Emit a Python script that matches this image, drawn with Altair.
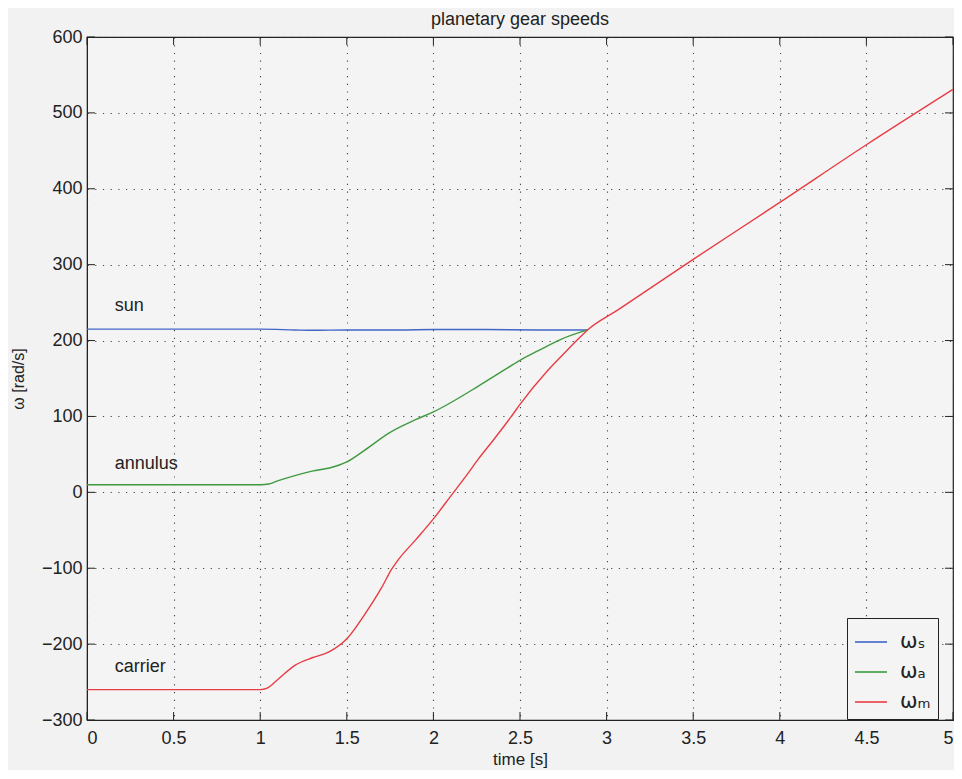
import altair as alt
import pandas as pd

# ---- data ----
sun_t = [0, 0.5, 1.0, 1.2, 1.3, 1.5, 1.8, 2.0, 2.3, 2.6, 2.89]
sun_w = [215, 215, 215, 214, 213.5, 214, 214, 214.5, 214.5, 214, 214]

ann_t = [0, 0.5, 1.0, 1.05, 1.1, 1.2, 1.3, 1.4, 1.5, 1.6, 1.75, 1.9, 2.0, 2.26, 2.4, 2.5, 2.6, 2.74, 2.89]
ann_w = [10, 10, 10, 11, 15, 22, 28, 32, 40, 55, 79, 96, 106, 140, 160, 174, 186, 202, 214]

car_t = [0, 0.5, 1.0, 1.04, 1.1, 1.2, 1.3, 1.4, 1.5, 1.6, 1.7, 1.76, 1.8, 1.9, 2.0, 2.1, 2.19, 2.26,
         2.35, 2.45, 2.5, 2.65, 2.75, 2.84, 2.89, 3.07, 3.5, 4.0, 4.5, 5.0]
car_w = [-260, -260, -260, -258, -247, -228, -218, -210, -193, -162, -126, -101, -88, -62, -35,
         -5, 22, 44, 70, 100, 116, 158, 182, 203, 214, 241, 307, 382, 458, 531]

series_names = ["ωₛ", "ωₐ", "ωₘ"]
series_colors = ["#4266c8", "#3f9a3f", "#e83c44"]

label_text = ["sun", "annulus", "carrier"]
label_t = [0.16, 0.16, 0.16]
label_w = [245, 37, -230]

x_ticks = [0, 0.5, 1, 1.5, 2, 2.5, 3, 3.5, 4, 4.5, 5]
y_ticks = [-300, -200, -100, 0, 100, 200, 300, 400, 500, 600]

# ---- build tables ----
rows = []
for name, ts, ws, o in [(series_names[0], sun_t, sun_w, 0),
                        (series_names[1], ann_t, ann_w, 1),
                        (series_names[2], car_t, car_w, 2)]:
    for t, w in zip(ts, ws):
        rows.append({"t": t, "w": w, "s": name, "o": o})
df = pd.DataFrame(rows)
lab_df = pd.DataFrame({"t": label_t, "w": label_w, "txt": label_text})
xt_df = pd.DataFrame({"v": x_ticks})
yt_df = pd.DataFrame({"v": y_ticks})

W, H = 866, 683
FONT = "Liberation Sans"
INK = "#222"

xscale = alt.Scale(domain=[0, 5], nice=False, zero=False)
yscale = alt.Scale(domain=[-300, 600], nice=False, zero=False)

grid = dict(grid=True, gridDash=[1.2, 6.5], gridColor="#333", gridOpacity=0.9, gridWidth=1.1)

lines = alt.Chart(df).mark_line(strokeWidth=1.4, interpolate="monotone").encode(
    x=alt.X("t:Q", scale=xscale, title="time [s]",
            axis=alt.Axis(values=x_ticks, format="~g", ticks=False, **grid,
                          labelPadding=9, titlePadding=4,
                          labelFontSize=18, titleFontSize=17, labelFont=FONT, titleFont=FONT,
                          titleFontWeight="normal",
                          labelColor=INK, titleColor=INK, domainColor=INK)),
    y=alt.Y("w:Q", scale=yscale, title="ω [rad/s]",
            axis=alt.Axis(values=y_ticks, ticks=False, **grid,
                          labelPadding=5, titlePadding=15,
                          labelFontSize=18, titleFontSize=16, labelFont=FONT, titleFont=FONT,
                          titleFontWeight="normal",
                          labelColor=INK, titleColor=INK, domainColor=INK)),
    color=alt.Color("s:N", scale=alt.Scale(domain=series_names, range=series_colors),
                    legend=alt.Legend(title=None, orient="none", legendX=760, legendY=581,
                                      symbolType="stroke", symbolSize=1024, symbolStrokeWidth=1.6,
                                      labelFontSize=21, labelFont="DejaVu Sans", labelColor=INK,
                                      strokeColor=INK, fillColor="#f4f4f4",
                                      padding=7, rowPadding=3, labelOffset=12)),
    order=alt.Order("o:Q"),
    detail="s:N",
)

labels = alt.Chart(lab_df).mark_text(align="left", baseline="middle", fontSize=18,
                                     font=FONT, color=INK).encode(
    x=alt.X("t:Q", scale=xscale), y=alt.Y("w:Q", scale=yscale), text="txt:N")

tk = dict(color=INK, strokeWidth=1)
xb = alt.Chart(xt_df).mark_rule(**tk).encode(x=alt.X("v:Q", scale=xscale), y=alt.value(H), y2=alt.value(H - 8))
xtop = alt.Chart(xt_df).mark_rule(**tk).encode(x=alt.X("v:Q", scale=xscale), y=alt.value(0), y2=alt.value(8))
yl = alt.Chart(yt_df).mark_rule(**tk).encode(y=alt.Y("v:Q", scale=yscale), x=alt.value(0), x2=alt.value(8))
yr = alt.Chart(yt_df).mark_rule(**tk).encode(y=alt.Y("v:Q", scale=yscale), x=alt.value(W), x2=alt.value(W - 8))

chart = alt.layer(lines, labels, xb, xtop, yl, yr).properties(
    width=W, height=H,
    title=alt.Title("planetary gear speeds", fontSize=18, font=FONT, fontWeight="normal",
                    color=INK, offset=-1, anchor="middle", frame="group"),
    autosize=alt.AutoSizeParams(type="none"),
    padding={"left": 79, "top": 29, "right": 1, "bottom": 50},
    background="#f2f2f2",
).configure_view(stroke=INK, strokeWidth=1.2, fill="#f4f4f4")

chart.save("out.html", embed_options={"renderer": "svg", "actions": False})
